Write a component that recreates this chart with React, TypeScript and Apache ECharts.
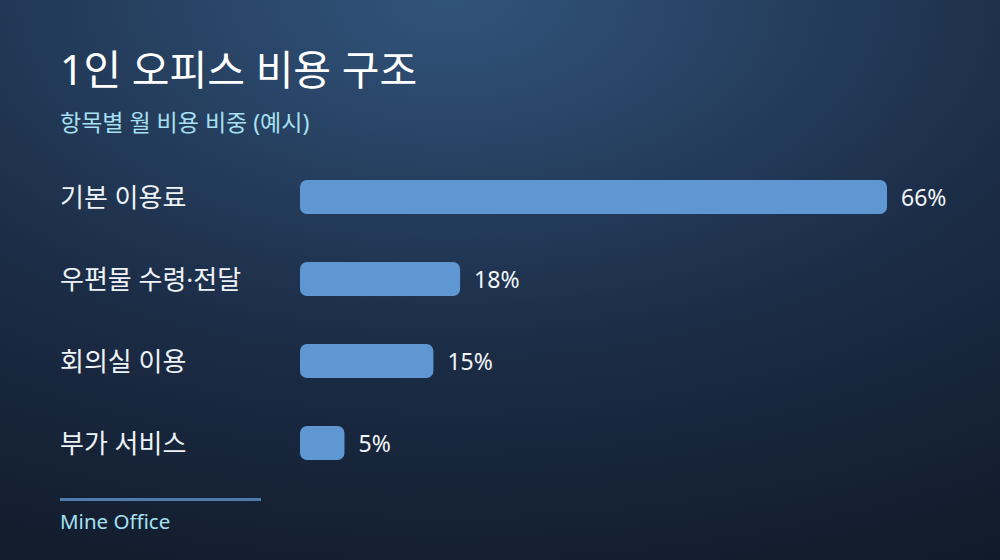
import React, { useEffect, useRef } from 'react';
import * as echarts from 'echarts';

const categories = ['기본 이용료', '우편물 수령·전달', '회의실 이용', '부가 서비스'];
const shares = [66, 18, 15, 5];
const titleText = '1인 오피스 비용 구조';
const subtitleText = '항목별 월 비용 비중 (예시)';
const footerText = 'Mine Office';

const FONT = '"Noto Sans", "Noto Sans CJK KR", sans-serif';

const App: React.FC = () => {
  const chartRef = useRef<HTMLDivElement>(null);

  useEffect(() => {
    document.body.style.margin = '0';
    if (!chartRef.current) return;
    const chart = echarts.init(chartRef.current, undefined, { renderer: 'svg' });

    const option = {
      animation: false,
      backgroundColor: {
        type: 'radial',
        x: 0.45,
        y: 0,
        r: 1.35,
        colorStops: [
          { offset: 0, color: '#31547b' },
          { offset: 0.45, color: '#1c2d47' },
          { offset: 1, color: '#0c121d' }
        ]
      },
      title: [
        {
          text: titleText,
          left: 60,
          top: 48,
          padding: 0,
          textStyle: { color: '#ffffff', fontSize: 41, fontWeight: 'normal', fontFamily: FONT }
        },
        {
          text: subtitleText,
          left: 60,
          top: 110,
          padding: 0,
          textStyle: { color: '#a6e0f2', fontSize: 23, fontWeight: 'normal', fontFamily: FONT }
        }
      ],
      grid: { left: 300, right: 113, top: 156, bottom: 76, containLabel: false },
      xAxis: {
        type: 'value',
        min: 0,
        max: 66,
        show: false
      },
      yAxis: {
        type: 'category',
        data: categories,
        inverse: true,
        axisLine: { show: false },
        axisTick: { show: false },
        splitLine: { show: false },
        axisLabel: {
          align: 'left',
          margin: 240,
          color: '#eef3f8',
          fontSize: 26,
          fontFamily: FONT
        }
      },
      series: [
        {
          type: 'bar',
          data: shares,
          barWidth: 34,
          itemStyle: { color: '#5e97d2', borderRadius: 7 },
          label: {
            show: true,
            position: 'right',
            distance: 14,
            formatter: '{c}%',
            color: '#f2f6fa',
            fontSize: 23,
            fontFamily: FONT
          }
        }
      ],
      graphic: [
        {
          type: 'line',
          shape: { x1: 60, y1: 499.5, x2: 261, y2: 499.5 },
          style: { stroke: '#4f7cab', lineWidth: 3 }
        },
        {
          type: 'text',
          left: 60,
          top: 511,
          style: { text: footerText, fill: '#a6e0f2', fontSize: 20.5, fontFamily: FONT }
        }
      ]
    };

    chart.setOption(option);
    return () => {
      chart.dispose();
    };
  }, []);

  return <div ref={chartRef} style={{ width: 1000, height: 560 }} />;
};

export default App;
